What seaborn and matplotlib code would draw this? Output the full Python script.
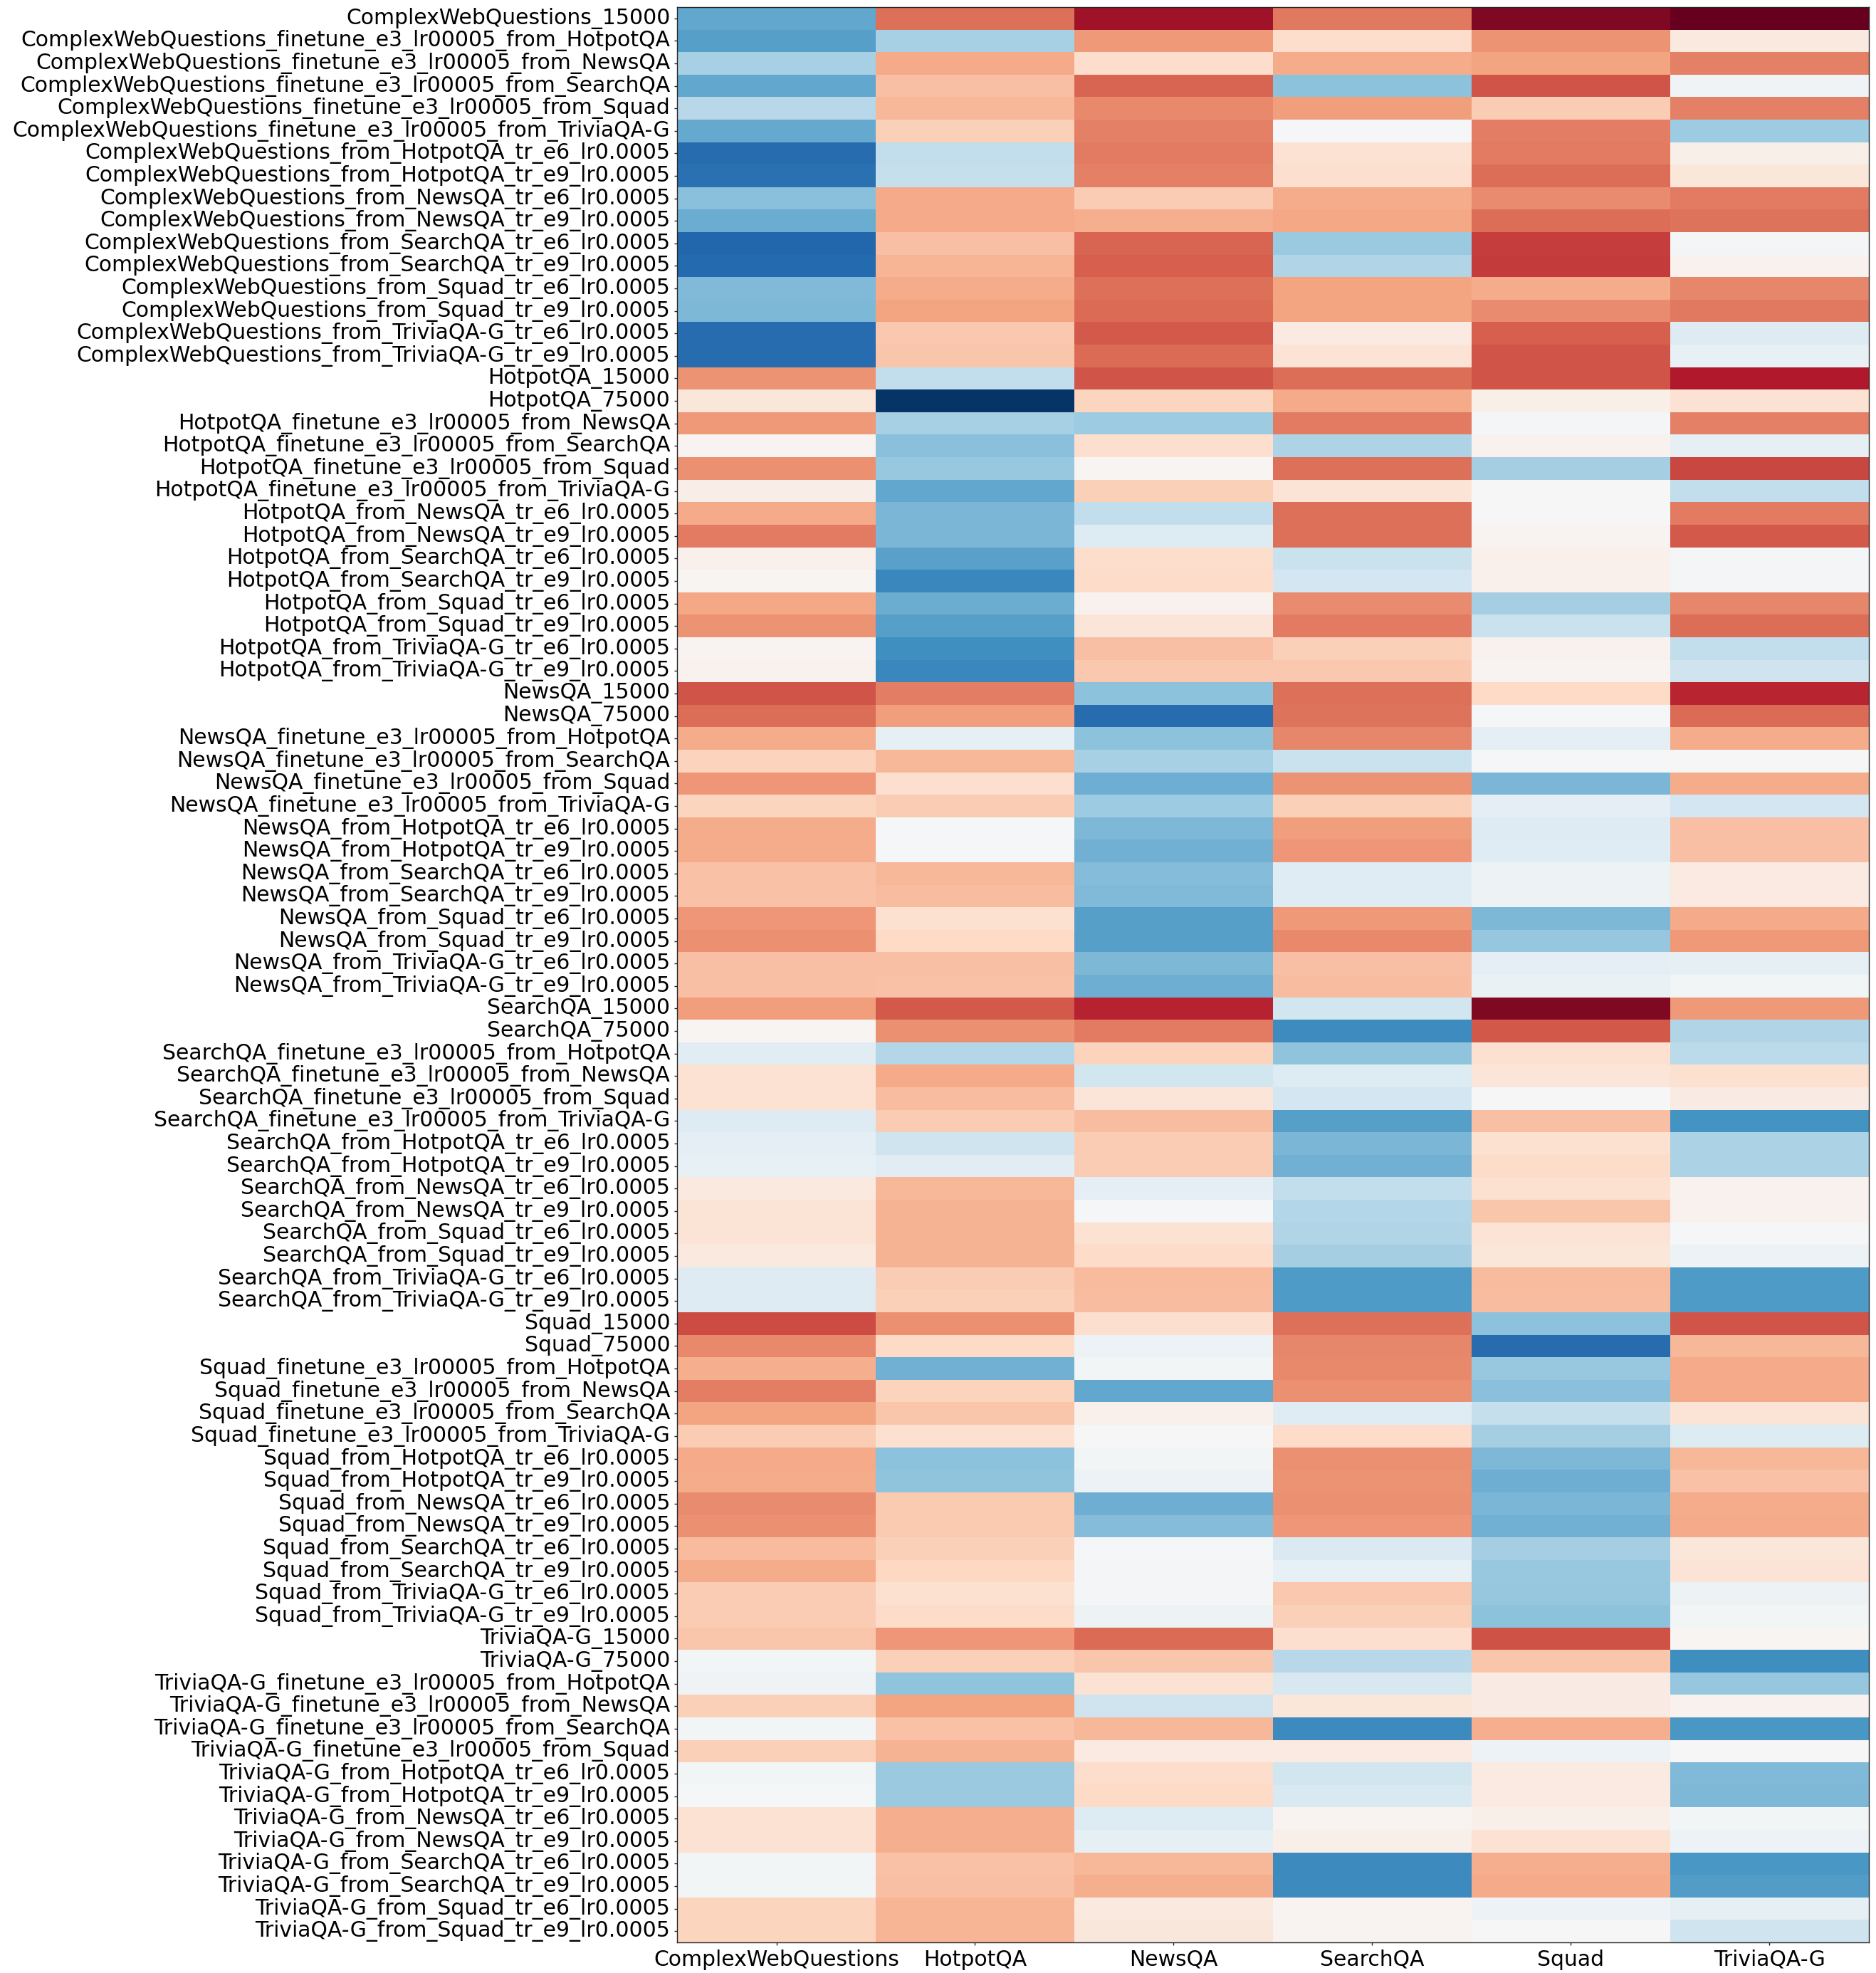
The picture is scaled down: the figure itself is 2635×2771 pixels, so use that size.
import numpy as np
import pandas as pd
import matplotlib
matplotlib.use("Agg")
import matplotlib.pyplot as plt
import seaborn as sns

columns = ["ComplexWebQuestions", "HotpotQA", "NewsQA", "SearchQA", "Squad", "TriviaQA-G"]

row_labels = [
    "ComplexWebQuestions_15000",
    "ComplexWebQuestions_finetune_e3_lr00005_from_HotpotQA",
    "ComplexWebQuestions_finetune_e3_lr00005_from_NewsQA",
    "ComplexWebQuestions_finetune_e3_lr00005_from_SearchQA",
    "ComplexWebQuestions_finetune_e3_lr00005_from_Squad",
    "ComplexWebQuestions_finetune_e3_lr00005_from_TriviaQA-G",
    "ComplexWebQuestions_from_HotpotQA_tr_e6_lr0.0005",
    "ComplexWebQuestions_from_HotpotQA_tr_e9_lr0.0005",
    "ComplexWebQuestions_from_NewsQA_tr_e6_lr0.0005",
    "ComplexWebQuestions_from_NewsQA_tr_e9_lr0.0005",
    "ComplexWebQuestions_from_SearchQA_tr_e6_lr0.0005",
    "ComplexWebQuestions_from_SearchQA_tr_e9_lr0.0005",
    "ComplexWebQuestions_from_Squad_tr_e6_lr0.0005",
    "ComplexWebQuestions_from_Squad_tr_e9_lr0.0005",
    "ComplexWebQuestions_from_TriviaQA-G_tr_e6_lr0.0005",
    "ComplexWebQuestions_from_TriviaQA-G_tr_e9_lr0.0005",
    "HotpotQA_15000",
    "HotpotQA_75000",
    "HotpotQA_finetune_e3_lr00005_from_NewsQA",
    "HotpotQA_finetune_e3_lr00005_from_SearchQA",
    "HotpotQA_finetune_e3_lr00005_from_Squad",
    "HotpotQA_finetune_e3_lr00005_from_TriviaQA-G",
    "HotpotQA_from_NewsQA_tr_e6_lr0.0005",
    "HotpotQA_from_NewsQA_tr_e9_lr0.0005",
    "HotpotQA_from_SearchQA_tr_e6_lr0.0005",
    "HotpotQA_from_SearchQA_tr_e9_lr0.0005",
    "HotpotQA_from_Squad_tr_e6_lr0.0005",
    "HotpotQA_from_Squad_tr_e9_lr0.0005",
    "HotpotQA_from_TriviaQA-G_tr_e6_lr0.0005",
    "HotpotQA_from_TriviaQA-G_tr_e9_lr0.0005",
    "NewsQA_15000",
    "NewsQA_75000",
    "NewsQA_finetune_e3_lr00005_from_HotpotQA",
    "NewsQA_finetune_e3_lr00005_from_SearchQA",
    "NewsQA_finetune_e3_lr00005_from_Squad",
    "NewsQA_finetune_e3_lr00005_from_TriviaQA-G",
    "NewsQA_from_HotpotQA_tr_e6_lr0.0005",
    "NewsQA_from_HotpotQA_tr_e9_lr0.0005",
    "NewsQA_from_SearchQA_tr_e6_lr0.0005",
    "NewsQA_from_SearchQA_tr_e9_lr0.0005",
    "NewsQA_from_Squad_tr_e6_lr0.0005",
    "NewsQA_from_Squad_tr_e9_lr0.0005",
    "NewsQA_from_TriviaQA-G_tr_e6_lr0.0005",
    "NewsQA_from_TriviaQA-G_tr_e9_lr0.0005",
    "SearchQA_15000",
    "SearchQA_75000",
    "SearchQA_finetune_e3_lr00005_from_HotpotQA",
    "SearchQA_finetune_e3_lr00005_from_NewsQA",
    "SearchQA_finetune_e3_lr00005_from_Squad",
    "SearchQA_finetune_e3_lr00005_from_TriviaQA-G",
    "SearchQA_from_HotpotQA_tr_e6_lr0.0005",
    "SearchQA_from_HotpotQA_tr_e9_lr0.0005",
    "SearchQA_from_NewsQA_tr_e6_lr0.0005",
    "SearchQA_from_NewsQA_tr_e9_lr0.0005",
    "SearchQA_from_Squad_tr_e6_lr0.0005",
    "SearchQA_from_Squad_tr_e9_lr0.0005",
    "SearchQA_from_TriviaQA-G_tr_e6_lr0.0005",
    "SearchQA_from_TriviaQA-G_tr_e9_lr0.0005",
    "Squad_15000",
    "Squad_75000",
    "Squad_finetune_e3_lr00005_from_HotpotQA",
    "Squad_finetune_e3_lr00005_from_NewsQA",
    "Squad_finetune_e3_lr00005_from_SearchQA",
    "Squad_finetune_e3_lr00005_from_TriviaQA-G",
    "Squad_from_HotpotQA_tr_e6_lr0.0005",
    "Squad_from_HotpotQA_tr_e9_lr0.0005",
    "Squad_from_NewsQA_tr_e6_lr0.0005",
    "Squad_from_NewsQA_tr_e9_lr0.0005",
    "Squad_from_SearchQA_tr_e6_lr0.0005",
    "Squad_from_SearchQA_tr_e9_lr0.0005",
    "Squad_from_TriviaQA-G_tr_e6_lr0.0005",
    "Squad_from_TriviaQA-G_tr_e9_lr0.0005",
    "TriviaQA-G_15000",
    "TriviaQA-G_75000",
    "TriviaQA-G_finetune_e3_lr00005_from_HotpotQA",
    "TriviaQA-G_finetune_e3_lr00005_from_NewsQA",
    "TriviaQA-G_finetune_e3_lr00005_from_SearchQA",
    "TriviaQA-G_finetune_e3_lr00005_from_Squad",
    "TriviaQA-G_from_HotpotQA_tr_e6_lr0.0005",
    "TriviaQA-G_from_HotpotQA_tr_e9_lr0.0005",
    "TriviaQA-G_from_NewsQA_tr_e6_lr0.0005",
    "TriviaQA-G_from_NewsQA_tr_e9_lr0.0005",
    "TriviaQA-G_from_SearchQA_tr_e6_lr0.0005",
    "TriviaQA-G_from_SearchQA_tr_e9_lr0.0005",
    "TriviaQA-G_from_Squad_tr_e6_lr0.0005",
    "TriviaQA-G_from_Squad_tr_e9_lr0.0005",
]

# relative scores per evaluation set (one list per column)
cwq_scores = [
    -0.52, -0.55, -0.33, -0.52, -0.28, -0.51, -0.77, -0.75, -0.42, -0.50, -0.79, -0.78, -0.44, -0.45, -0.77, -0.77,
    0.45, 0.12, 0.43, 0.03, 0.46, 0.07, 0.38, 0.52, 0.05, 0.02, 0.39, 0.45, 0.03, 0.04,
    0.63, 0.56, 0.37, 0.23, 0.44, 0.22, 0.37, 0.37, 0.29, 0.29, 0.44, 0.46, 0.30, 0.30,
    0.42, 0.02, -0.11, 0.15, 0.15, -0.13, -0.10, -0.08, 0.10, 0.14, 0.14, 0.10, -0.13, -0.13,
    0.65, 0.48, 0.36, 0.51, 0.40, 0.25, 0.38, 0.37, 0.47, 0.46, 0.32, 0.37, 0.25, 0.25,
    0.28, -0.03, -0.04, 0.24, -0.03, 0.24, -0.03, -0.01, 0.15, 0.15, -0.03, -0.03, 0.22, 0.22,
]
hotpot_scores = [
    0.55, -0.33, 0.38, 0.30, 0.33, 0.24, -0.25, -0.24, 0.38, 0.38, 0.30, 0.34, 0.37, 0.40, 0.27, 0.28,
    -0.25, -0.98, -0.33, -0.42, -0.38, -0.52, -0.46, -0.46, -0.54, -0.65, -0.50, -0.55, -0.61, -0.65,
    0.51, 0.42, -0.09, 0.33, 0.17, 0.25, -0.01, -0.01, 0.33, 0.31, 0.16, 0.20, 0.30, 0.29,
    0.61, 0.46, -0.29, 0.38, 0.31, 0.25, -0.21, -0.11, 0.33, 0.35, 0.35, 0.35, 0.25, 0.24,
    0.46, 0.20, -0.48, 0.23, 0.28, 0.16, -0.41, -0.40, 0.26, 0.26, 0.24, 0.21, 0.16, 0.19,
    0.44, 0.24, -0.40, 0.40, 0.29, 0.35, -0.37, -0.37, 0.36, 0.36, 0.29, 0.30, 0.34, 0.34,
]
newsqa_scores = [
    0.85, 0.43, 0.18, 0.58, 0.48, 0.50, 0.52, 0.50, 0.25, 0.36, 0.58, 0.60, 0.55, 0.57, 0.61, 0.57,
    0.63, 0.22, -0.36, 0.17, 0.02, 0.24, -0.25, -0.14, 0.18, 0.19, 0.04, 0.13, 0.30, 0.27,
    -0.41, -0.77, -0.41, -0.33, -0.49, -0.36, -0.45, -0.48, -0.43, -0.44, -0.55, -0.55, -0.45, -0.49,
    0.77, 0.52, 0.23, -0.19, 0.13, 0.31, 0.25, 0.25, -0.10, -0.01, 0.15, 0.19, 0.32, 0.31,
    0.17, -0.06, -0.03, -0.52, 0.05, 0.00, -0.03, -0.06, -0.49, -0.43, -0.01, -0.02, -0.02, -0.05,
    0.57, 0.28, 0.15, -0.21, 0.33, 0.09, 0.18, 0.20, -0.14, -0.09, 0.33, 0.36, 0.10, 0.11,
]
searchqa_scores = [
    0.53, 0.18, 0.37, -0.41, 0.42, -0.01, 0.15, 0.17, 0.37, 0.39, -0.37, -0.30, 0.40, 0.40, 0.09, 0.14,
    0.56, 0.38, 0.52, -0.31, 0.55, 0.14, 0.55, 0.55, -0.22, -0.18, 0.47, 0.52, 0.24, 0.27,
    0.55, 0.54, 0.49, -0.22, 0.45, 0.24, 0.42, 0.44, -0.12, -0.12, 0.43, 0.48, 0.30, 0.31,
    -0.19, -0.63, -0.40, -0.14, -0.18, -0.55, -0.46, -0.48, -0.25, -0.29, -0.30, -0.34, -0.57, -0.57,
    0.55, 0.49, 0.48, 0.46, -0.12, 0.19, 0.46, 0.45, 0.46, 0.44, -0.15, -0.08, 0.27, 0.24,
    0.17, -0.28, -0.17, 0.12, -0.64, 0.09, -0.19, -0.16, 0.03, 0.06, -0.64, -0.64, 0.03, 0.03,
]
squad_scores = [
    0.93, 0.45, 0.40, 0.63, 0.25, 0.51, 0.52, 0.56, 0.47, 0.56, 0.69, 0.70, 0.37, 0.47, 0.60, 0.63,
    0.63, 0.06, -0.02, 0.04, -0.34, 0.005, 0.00, 0.03, 0.05, 0.05, -0.34, -0.22, 0.04, 0.03,
    0.20, -0.01, -0.10, -0.01, -0.46, -0.10, -0.13, -0.12, -0.05, -0.05, -0.45, -0.39, -0.10, -0.07,
    0.93, 0.62, 0.16, 0.13, 0.00, 0.30, 0.16, 0.19, 0.16, 0.28, 0.14, 0.12, 0.32, 0.31,
    -0.41, -0.77, -0.38, -0.42, -0.24, -0.34, -0.45, -0.49, -0.46, -0.48, -0.34, -0.38, -0.39, -0.41,
    0.64, 0.28, 0.08, 0.08, 0.36, -0.06, 0.09, 0.09, 0.06, 0.15, 0.36, 0.38, -0.06, 0.00,
]
triviaqa_scores = [
    1.00, 0.10, 0.50, -0.04, 0.50, -0.36, 0.06, 0.12, 0.52, 0.54, -0.02, 0.04, 0.49, 0.53, -0.13, -0.08,
    0.80, 0.15, 0.50, -0.09, 0.67, -0.25, 0.52, 0.61, -0.02, -0.02, 0.49, 0.56, -0.25, -0.21,
    0.76, 0.57, 0.37, 0.005, 0.37, -0.18, 0.30, 0.30, 0.09, 0.09, 0.38, 0.43, -0.09, -0.03,
    0.43, -0.30, -0.27, 0.16, 0.08, -0.60, -0.32, -0.32, 0.04, 0.04, -0.01, -0.06, -0.57, -0.57,
    0.63, 0.33, 0.38, 0.38, 0.14, -0.14, 0.33, 0.29, 0.37, 0.38, 0.12, 0.14, -0.05, -0.03,
    0.02, -0.62, -0.39, 0.04, -0.58, 0.00, -0.44, -0.45, -0.03, -0.06, -0.58, -0.56, -0.09, -0.21,
]

df = pd.DataFrame(
    {
        columns[0]: cwq_scores,
        columns[1]: hotpot_scores,
        columns[2]: newsqa_scores,
        columns[3]: searchqa_scores,
        columns[4]: squad_scores,
        columns[5]: triviaqa_scores,
    },
    index=row_labels,
)

W, H = 2635, 2771
fig = plt.figure(figsize=(W / 100, H / 100), dpi=100)
left, right, top, bottom = 951, 2625, 10, 2728
ax = fig.add_axes([left / W, 1 - bottom / H, (right - left) / W, (bottom - top) / H])

sns.heatmap(
    df,
    cmap="RdBu_r",
    vmin=-1,
    vmax=1,
    cbar=False,
    ax=ax,
    xticklabels=columns,
    yticklabels=row_labels,
)

ax.set_xlabel("")
ax.set_ylabel("")
for s in ax.spines.values():
    s.set_visible(True)
    s.set_color("#262626")
    s.set_linewidth(1.0)
ax.tick_params(axis="both", length=3, width=1.0, pad=4, labelsize=21.5,
               colors="#262626", labelcolor="black")
plt.setp(ax.get_yticklabels(), rotation=0)
plt.setp(ax.get_xticklabels(), rotation=0)

fig.savefig("out.png", dpi=100)
